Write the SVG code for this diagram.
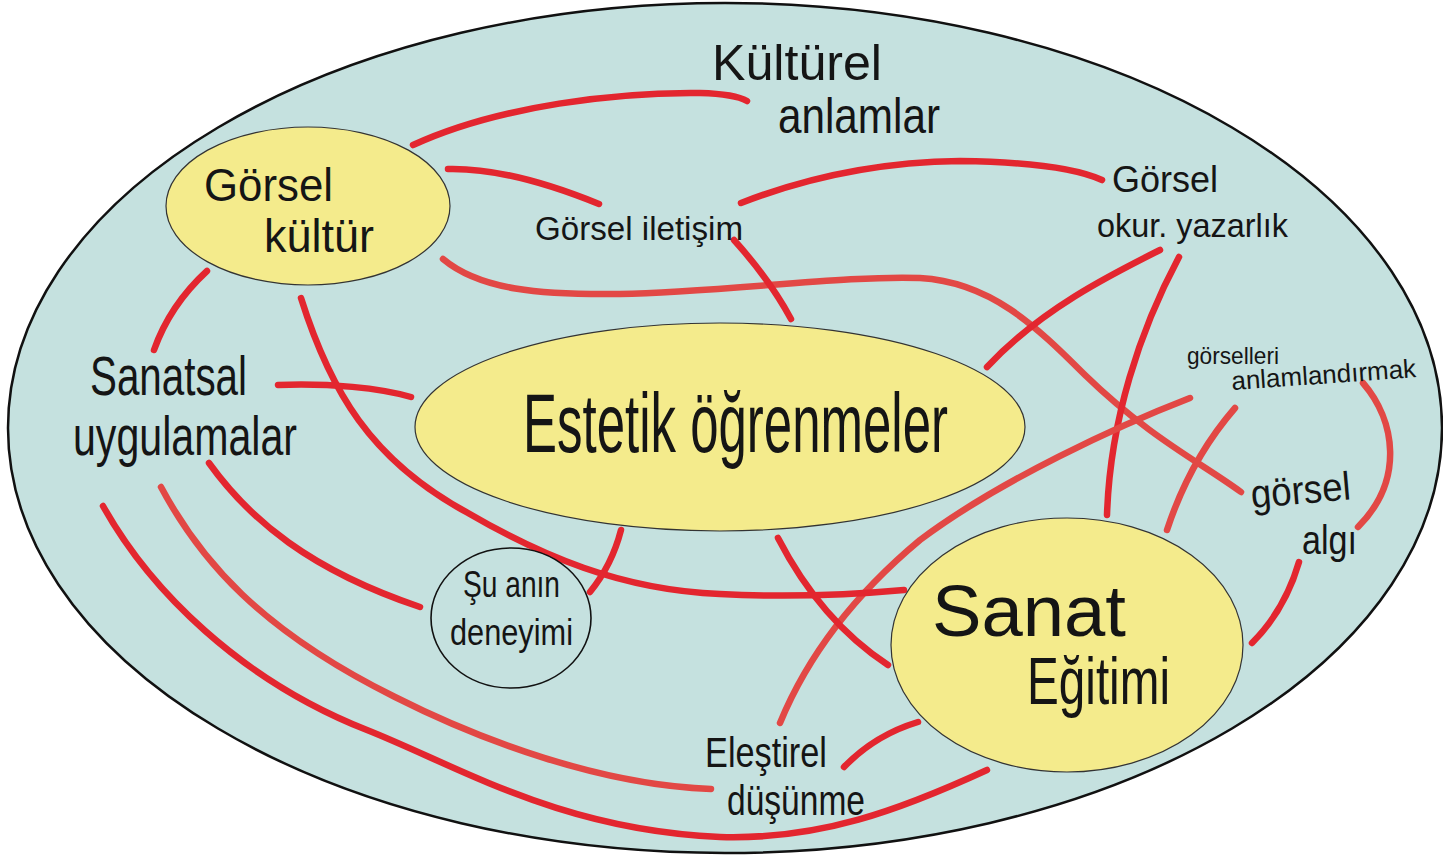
<svg xmlns="http://www.w3.org/2000/svg" width="1443" height="857" viewBox="0 0 1443 857">
<style>
.bg{fill:#c5e1df;stroke:#111;stroke-width:2.5}
.node{fill:#f4eb8c;stroke:#333;stroke-width:1.2}
.circ{fill:#c5e1df;stroke:#111;stroke-width:1.6}
.c{fill:none;stroke:#e3262f;stroke-width:6.5;stroke-linecap:round}
.c2{fill:none;stroke:#e24845;stroke-width:6.5;stroke-linecap:round}
text{font-family:"Liberation Sans Narrow","Liberation Sans",sans-serif;fill:#151515}
</style>
<rect width="1443" height="857" fill="#ffffff"/>
<ellipse class="bg" cx="725" cy="428" rx="717" ry="425"/>
<g id="connectors">
<path class="c" d="M413,145 C500,105 620,92 700,93 Q735,94 747,101"/>
<path class="c" d="M448,169 C490,168 540,180 599,204"/>
<path class="c2" d="M443,259 C480,290 540,295 620,294 C720,292 850,275 920,278 C990,282 1035,325 1085,375 C1150,438 1200,462 1241,492"/>
<path class="c" d="M734,240 Q770,280 791,319"/>
<path class="c" d="M741,203 C800,180 870,162 960,161 C1040,162 1080,170 1102,180"/>
<path class="c" d="M1160,250 C1110,275 1040,310 987,367"/>
<path class="c" d="M1179,257 C1140,330 1110,420 1107,515"/>
<path class="c2" d="M1190,398 C1120,425 1000,480 920,540 C860,590 810,650 780,723"/>
<path class="c2" d="M1235,408 Q1190,460 1167,530"/>
<path class="c2" d="M1363,383 C1395,420 1405,480 1358,527"/>
<path class="c" d="M1299,562 Q1285,610 1252,643"/>
<path class="c" d="M207,271 Q170,305 154,350"/>
<path class="c" d="M301,298 C330,390 370,460 468,513 C540,555 620,590 720,594 C800,598 860,594 904,590"/>
<path class="c" d="M278,385 C330,383 380,388 411,397"/>
<path class="c" d="M209,463 C250,520 310,570 420,607"/>
<path class="c2" d="M161,487 C200,560 260,630 395,697 C480,740 600,785 711,789"/>
<path class="c" d="M103,506 C150,590 240,680 367,730 C460,767 560,830 720,837 C820,840 900,810 987,770"/>
<path class="c" d="M621,530 Q612,565 590,592"/>
<path class="c" d="M778,538 C810,600 850,640 888,665"/>
<path class="c" d="M844,767 Q875,735 918,722"/>
</g>
<g id="gorsel-kultur">
<ellipse class="node" cx="308" cy="206" rx="142" ry="79"/>
<text x="204" y="201" font-size="46" textLength="129" lengthAdjust="spacingAndGlyphs">Görsel</text>
<text x="264" y="252" font-size="46" textLength="110" lengthAdjust="spacingAndGlyphs">kültür</text>
</g>
<g id="estetik">
<ellipse class="node" cx="720" cy="427" rx="305" ry="104"/>
<text x="523" y="452" font-size="84" textLength="425" lengthAdjust="spacingAndGlyphs">Estetik öğrenmeler</text>
</g>
<g id="sanat-egitimi">
<ellipse class="node" cx="1067" cy="645" rx="176" ry="127"/>
<text x="932" y="636" font-size="72" textLength="194" lengthAdjust="spacingAndGlyphs">Sanat</text>
<text x="1027" y="704" font-size="66" textLength="143" lengthAdjust="spacingAndGlyphs">Eğitimi</text>
</g>
<g id="su-anin-deneyimi">
<ellipse class="circ" cx="511" cy="618" rx="80" ry="70"/>
<text x="463" y="597" font-size="36" textLength="97" lengthAdjust="spacingAndGlyphs">Şu anın</text>
<text x="450" y="645" font-size="36" textLength="123" lengthAdjust="spacingAndGlyphs">deneyimi</text>
</g>
<g id="kulturel-anlamlar">
<text x="712" y="80" font-size="50" textLength="170" lengthAdjust="spacingAndGlyphs">Kültürel</text>
<text x="778" y="133" font-size="50" textLength="162" lengthAdjust="spacingAndGlyphs">anlamlar</text>
</g>
<g id="gorsel-iletisim">
<text x="535" y="240" font-size="34" textLength="208" lengthAdjust="spacingAndGlyphs">Görsel iletişim</text>
</g>
<g id="gorsel-okur-yazarlik">
<text x="1112" y="192" font-size="36" textLength="106" lengthAdjust="spacingAndGlyphs">Görsel</text>
<text x="1097" y="237" font-size="34" textLength="191" lengthAdjust="spacingAndGlyphs">okur. yazarlık</text>
</g>
<g id="gorselleri-anlamlandirmak">
<text x="1187" y="364" font-size="24" textLength="92" lengthAdjust="spacingAndGlyphs">görselleri</text>
<text x="1232" y="390" font-size="26" textLength="185" lengthAdjust="spacingAndGlyphs" transform="rotate(-4 1232 390)">anlamlandırmak</text>
</g>
<g id="sanatsal-uygulamalar">
<text x="90" y="395" font-size="56" textLength="157" lengthAdjust="spacingAndGlyphs">Sanatsal</text>
<text x="73" y="455" font-size="56" textLength="224" lengthAdjust="spacingAndGlyphs">uygulamalar</text>
</g>
<g id="gorsel-algi">
<text x="1252" y="508" font-size="40" textLength="100" lengthAdjust="spacingAndGlyphs" transform="rotate(-5 1252 508)">görsel</text>
<text x="1302" y="554" font-size="40" textLength="55" lengthAdjust="spacingAndGlyphs">algı</text>
</g>
<g id="elestirel-dusunme">
<text x="705" y="767" font-size="42" textLength="122" lengthAdjust="spacingAndGlyphs">Eleştirel</text>
<text x="727" y="815" font-size="42" textLength="138" lengthAdjust="spacingAndGlyphs">düşünme</text>
</g>
</svg>
